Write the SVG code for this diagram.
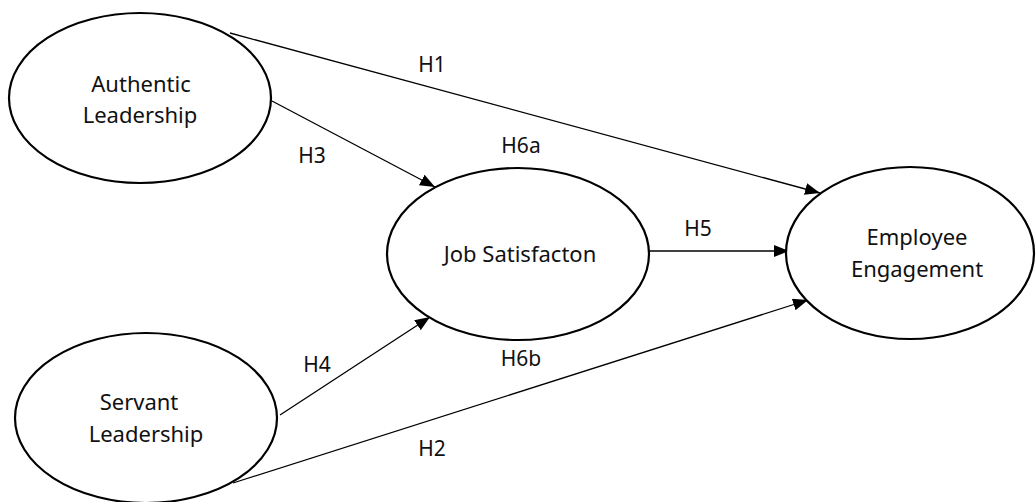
<svg xmlns="http://www.w3.org/2000/svg" width="1036" height="502" viewBox="0 0 1036 502">
<style>
.node ellipse{fill:#fff;stroke:#000;stroke-width:2.2}
.node text{font-family:"Noto Sans","Open Sans",sans-serif;font-size:22px;fill:#111;text-anchor:middle}
.lbl{font-family:"Noto Sans","Open Sans",sans-serif;font-size:21px;fill:#111;text-anchor:middle}
.edge{stroke:#000;stroke-width:1.3;fill:none;marker-end:url(#arr)}
</style>
<defs>
<marker id="arr" markerUnits="userSpaceOnUse" markerWidth="16" markerHeight="12" refX="15" refY="6" orient="auto">
<path d="M0,0 L15,6 L0,12 z" fill="#000"/>
</marker>
</defs>
<rect width="1036" height="502" fill="#fff"/>
<g id="connectors">
<line class="edge" x1="230" y1="33" x2="820" y2="193"/>
<line class="edge" x1="272" y1="101" x2="435" y2="187"/>
<line class="edge" x1="280" y1="415" x2="430" y2="317"/>
<line class="edge" x1="649" y1="251" x2="789" y2="251"/>
<line class="edge" x1="233" y1="483" x2="808" y2="300"/>
</g>
<g id="labels">
<text class="lbl" x="432" y="72">H1</text>
<text class="lbl" x="312" y="163">H3</text>
<text class="lbl" x="521" y="153">H6a</text>
<text class="lbl" x="698" y="236">H5</text>
<text class="lbl" x="317" y="372">H4</text>
<text class="lbl" x="521" y="366">H6b</text>
<text class="lbl" x="432" y="456">H2</text>
</g>
<g id="authentic" class="node">
<ellipse cx="140" cy="98" rx="131" ry="85"/>
<text x="141" y="92">Authentic</text>
<text x="140" y="123">Leadership</text>
</g>
<g id="servant" class="node">
<ellipse cx="146" cy="418" rx="131" ry="85"/>
<text x="139" y="410">Servant</text>
<text x="146" y="442">Leadership</text>
</g>
<g id="jobsat" class="node">
<ellipse cx="518" cy="254" rx="131" ry="86"/>
<text x="520" y="262">Job Satisfacton</text>
</g>
<g id="engagement" class="node">
<ellipse cx="910" cy="253" rx="124" ry="86"/>
<text x="917" y="245">Employee</text>
<text x="917" y="277">Engagement</text>
</g>
</svg>
